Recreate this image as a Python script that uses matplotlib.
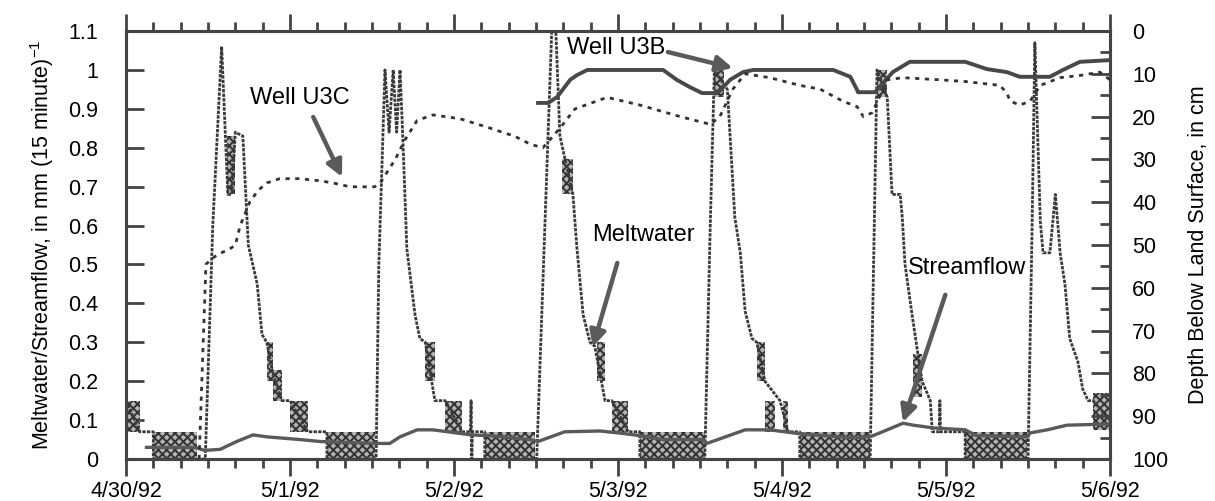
import matplotlib.pyplot as plt
from matplotlib.ticker import MultipleLocator

plt.rcParams['font.family'] = ['Liberation Sans', 'DejaVu Sans']
plt.rcParams['hatch.linewidth'] = 1.4

# time axis: hours after 4/30/92 00:00
day_labels = ['4/30/92', '5/1/92', '5/2/92', '5/3/92', '5/4/92', '5/5/92', '5/6/92']

# meltwater, mm per 15 minutes
melt_hours = [0.0, 2.0, 4.0, 4.0, 11.6, 12.7, 14.0, 14.9, 15.5, 16.0, 17.1, 17.9,
              19.2, 19.9, 20.6, 21.5, 22.8, 24.0, 26.6, 29.4, 29.4, 36.6, 37.0,
              37.9, 38.5, 39.1, 39.6, 40.1, 40.5, 41.1, 42.3, 43.0, 43.8, 45.2,
              46.7, 49.2, 50.4, 50.5,
              50.6, 50.7, 52.5, 52.5, 60.1, 61.3, 62.3, 62.9, 63.5, 65.4, 66.0,
              66.9, 67.9, 68.6, 70.1, 71.1, 73.5, 75.2, 75.2, 84.7, 85.5, 86.1,
              88.0, 89.1, 89.9, 90.6, 91.6, 92.3, 93.5, 95.7, 96.9, 98.6, 98.6,
              108.9, 109.5, 109.9, 111.4, 112.1, 113.3, 113.6, 114.0, 115.0,
              115.8, 116.5, 117.7, 118.0, 119.0, 119.1, 119.2, 122.8, 122.8,
              132.0, 132.6, 133.0, 133.8, 134.2, 135.2, 136.0, 136.7, 137.4,
              138.1, 139.3, 140.0, 140.8, 141.5, 144.0]
melt_vals = [0.15, 0.07, 0.07, 0.0, 0.0, 0.6, 1.06, 0.68, 0.68, 0.84, 0.83, 0.55,
             0.45, 0.32, 0.30, 0.22, 0.15, 0.15, 0.07, 0.07, 0.0, 0.0, 0.5,
             1.0, 0.84, 1.0, 0.84, 1.0, 0.83, 0.54, 0.37, 0.31, 0.30, 0.15,
             0.15, 0.07, 0.07, 0.15,
             0.0, 0.07, 0.07, 0.0, 0.0, 0.6, 1.1, 1.1, 0.83, 0.68, 0.54,
             0.37, 0.30, 0.29, 0.15, 0.15, 0.07, 0.07, 0.0, 0.0, 0.6, 1.0,
             0.95, 0.62, 0.53, 0.38, 0.31, 0.30, 0.20, 0.15, 0.07, 0.07, 0.0,
             0.0, 0.6, 1.0, 0.93, 0.68, 0.68, 0.62, 0.50, 0.375,
             0.28, 0.20, 0.15, 0.07, 0.07, 0.15, 0.07, 0.07, 0.0,
             0.0, 0.6, 1.07, 0.61, 0.53, 0.53, 0.68, 0.53, 0.45,
             0.31, 0.25, 0.18, 0.15, 0.15, 0.10]

# stretches where the 15-minute meltwater flips between two levels
band_start = [0.0, 4.0, 14.8, 20.6, 21.5, 24.0, 29.4, 43.8, 46.7, 52.5,
              63.8, 68.9, 71.1, 75.2, 86.1, 92.3, 93.5, 96.1, 98.6, 109.9,
              115.2, 122.8, 141.5]
band_end = [2.0, 10.4, 16.0, 21.5, 22.8, 26.6, 36.4, 45.2, 49.2, 59.9,
            65.4, 70.1, 73.5, 84.7, 87.5, 93.5, 95.0, 96.9, 108.9, 111.4,
            116.5, 131.9, 144.0]
band_low = [0.07, 0.0, 0.68, 0.20, 0.15, 0.07, 0.0, 0.20, 0.07, 0.0,
            0.68, 0.20, 0.07, 0.0, 0.93, 0.20, 0.07, 0.07, 0.0, 0.93,
            0.16, 0.0, 0.075]
band_high = [0.15, 0.07, 0.83, 0.30, 0.23, 0.15, 0.07, 0.30, 0.15, 0.07,
             0.77, 0.30, 0.15, 0.07, 1.0, 0.30, 0.15, 0.15, 0.07, 1.0,
             0.27, 0.07, 0.17]

# streamflow, mm per 15 minutes
flow_hours = [3.0, 7.9, 10.1, 11.3, 12.3, 13.8, 16.2, 18.6, 20.6, 25.5, 28.4,
              36.7, 38.6, 40.1, 42.6, 44.9, 50.5, 53.3, 59.1, 60.3, 64.2, 69.4,
              73.1, 75.2, 78.6, 84.3, 85.0, 90.6, 94.2, 98.6, 106.0, 108.9,
              111.4, 113.7, 115.2, 118.1, 122.8, 124.5, 131.9, 132.3, 134.8,
              137.7, 144.0]
flow_vals = [0.03, 0.03, 0.03, 0.023, 0.023, 0.025, 0.045, 0.062, 0.057, 0.05,
             0.045, 0.04, 0.04, 0.057, 0.075, 0.075, 0.062, 0.06, 0.05, 0.045,
             0.07, 0.072, 0.065, 0.06, 0.05, 0.05, 0.04, 0.075, 0.075, 0.065,
             0.055, 0.057, 0.075, 0.092, 0.087, 0.08, 0.075, 0.06, 0.057, 0.067,
             0.075, 0.087, 0.09]

# water table depth, cm below land surface
u3b_hours = [60.3, 61.8, 63.1, 65.0, 66.0, 67.5, 78.6, 80.6, 82.5, 84.3, 86.6,
             88.4, 90.3, 91.8, 103.5, 106.0, 107.0, 107.1, 109.6, 112.2, 114.7,
             122.8, 126.0, 128.9, 130.8, 135.2, 137.1, 139.6, 144.0]
u3b_depth = [16.8, 16.8, 15.4, 11.4, 10.3, 9.1, 9.1, 11.4, 13.1, 14.5, 14.5,
             11.4, 9.6, 9.1, 9.1, 10.7, 13.8, 14.3, 14.3, 9.6, 7.2,
             7.2, 8.9, 9.6, 10.7, 10.7, 9.1, 7.2, 6.8]

u3c_hours = [10.7, 11.3, 11.7, 12.3, 13.0, 14.0, 15.2, 16.0, 16.7, 18.1, 19.3,
             20.6, 22.5, 25.5, 28.4, 30.3, 32.8, 36.4, 37.2, 39.4, 40.8, 42.6,
             44.9, 48.9, 53.3, 56.9, 59.1, 61.0, 63.5, 65.7, 70.4, 75.2, 81.1,
             85.5, 86.9, 88.8, 90.6, 94.2, 98.6, 101.6, 104.9, 107.0, 107.9,
             109.2, 111.4, 113.7, 119.1, 122.8, 127.9, 128.9, 129.4, 130.8,
             132.3, 133.8, 136.7, 140.0, 142.5, 144.0]
u3c_depth = [100.0, 72.7, 54.5, 53.6, 52.7, 51.8, 50.9, 50.0, 45.5, 40.0, 37.3,
             35.5, 34.5, 34.5, 35.0, 35.5, 36.4, 36.4, 35.5, 30.0, 25.5, 20.9,
             19.6, 20.5, 22.7, 24.6, 26.4, 27.3, 22.7, 18.2, 15.5, 17.3, 20.0,
             21.8, 20.0, 13.6, 10.0, 10.9, 12.7, 13.6, 16.4, 17.7, 20.0,
             19.1, 11.4, 10.9, 11.4, 11.8, 12.7, 14.5, 16.4, 17.3,
             16.4, 12.7, 10.9, 10.3, 9.6, 11.4]

fig = plt.figure(figsize=(12.15, 5.01), dpi=100)
ax = fig.add_axes([0.1037, 0.0838, 0.8099, 0.8543])
ax2 = ax.twinx()

for s, e, lo, hi in zip(band_start, band_end, band_low, band_high):
    ax.fill_between([s, e], [lo, lo], [hi, hi], facecolor='#b4b4b4',
                    edgecolor='#333333', hatch='xxxx', linewidth=0, zorder=2)

ax.plot(melt_hours, melt_vals, color='#3a3a3a', lw=2.0, ls=(0, (1.2, 0.45)), zorder=3)
ax.plot(flow_hours, flow_vals, color='#5a5a5a', lw=2.4, zorder=4)
ax2.plot(u3b_hours, u3b_depth, color='#484848', lw=2.8, zorder=4)
ax2.plot(u3c_hours, u3c_depth, color='#333333', lw=2.0, ls=(0, (1.5, 2.0)), zorder=4)

# labels for the four curves
arrow = dict(arrowstyle='-|>', color='#5a5a5a', lw=3.2, mutation_scale=24,
             shrinkA=0, shrinkB=0)
ax.text(25.5, 0.928, 'Well U3C', fontsize=17, ha='center', va='center')
ax.annotate('', xy=(31.6, 0.725), xytext=(27.4, 0.879), arrowprops=arrow)
ax.text(71.7, 1.057, 'Well U3B', fontsize=17, ha='center', va='center')
ax.annotate('', xy=(88.8, 1.005), xytext=(79.3, 1.046), arrowprops=arrow)
ax.text(75.7, 0.576, 'Meltwater', fontsize=17, ha='center', va='center')
ax.annotate('', xy=(68.3, 0.288), xytext=(71.9, 0.504), arrowprops=arrow)
ax.text(123.1, 0.491, 'Streamflow', fontsize=17, ha='center', va='center')
ax.annotate('', xy=(113.7, 0.095), xytext=(119.9, 0.422), arrowprops=arrow)

ax.set_xlim(0, 144)
ax.set_xticks(range(0, 145, 24))
ax.set_xticklabels(day_labels, fontsize=15.5)
ax.xaxis.set_minor_locator(MultipleLocator(4))
ax.tick_params(axis='x', which='major', direction='out', top=True, length=12,
               width=2, pad=4, color='#444444')
ax.tick_params(axis='x', which='minor', direction='out', top=True, length=6.5,
               width=2, color='#444444')

ax.set_ylim(0, 1.1)
yt = [i / 10 for i in range(12)]
ax.set_yticks(yt)
ax.set_yticklabels(['0', '0.1', '0.2', '0.3', '0.4', '0.5', '0.6', '0.7', '0.8',
                    '0.9', '1', '1.1'], fontsize=15.5)
ax.tick_params(axis='y', direction='in', length=13, width=2, pad=20, color='#444444')
ax.set_ylabel('Meltwater/Streamflow, in mm (15 minute)$^{\\mathregular{-1}}$',
              fontsize=15.5, labelpad=9)

ax2.set_ylim(100, 0)
ax2.set_yticks(range(0, 101, 10))
ax2.yaxis.set_minor_locator(MultipleLocator(5))
ax2.tick_params(axis='y', which='major', direction='in', length=14, width=2,
                pad=16, labelsize=15.5, color='#444444')
ax2.tick_params(axis='y', which='minor', direction='in', length=7, width=2,
                color='#444444')
ax2.set_ylabel('Depth Below Land Surface, in cm', fontsize=15.5, labelpad=14)

for a in (ax, ax2):
    for sp in a.spines.values():
        sp.set_linewidth(2.2)
        sp.set_color('#444444')

fig.savefig('out.png', dpi=100)
